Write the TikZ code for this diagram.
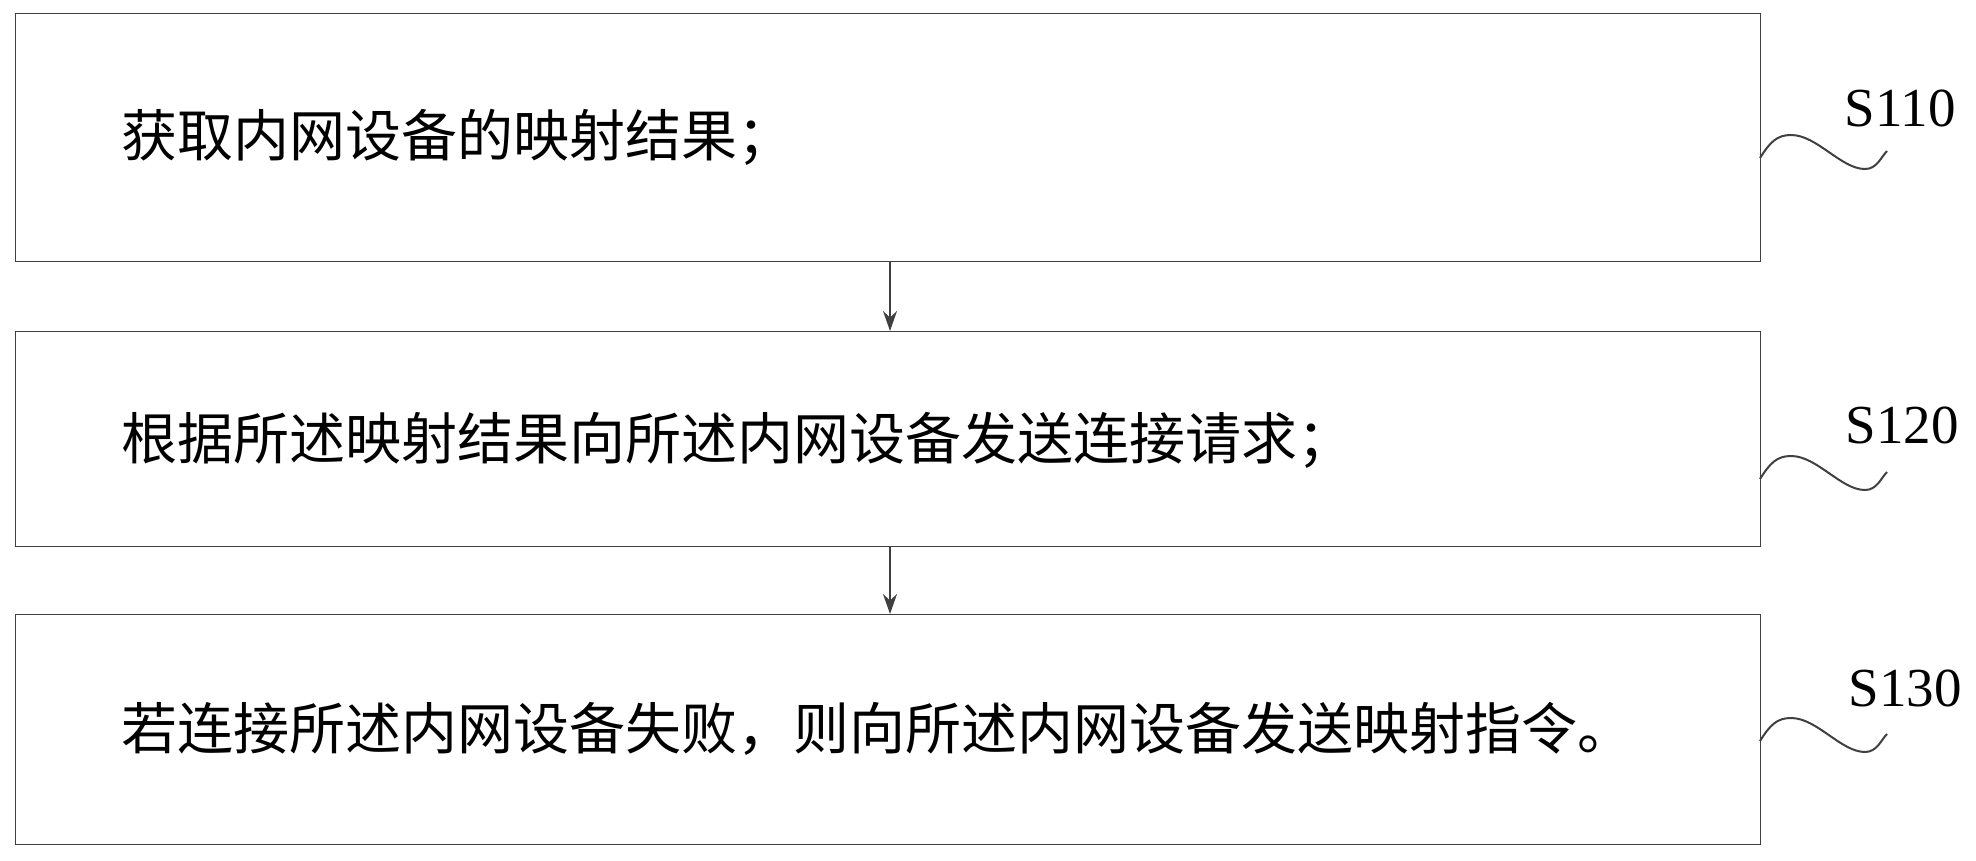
\documentclass[tikz,border=0pt]{standalone}
\usetikzlibrary{arrows.meta}
\usepackage{fontspec}
\setmainfont{Liberation Serif}
\newfontfamily\cjk{Noto Sans CJK SC}
\begin{document}
\begin{tikzpicture}[x=1pt,y=-1pt,
  stepbox/.style={draw=black!75,line width=1.3pt},
  txt/.style={anchor=west,font=\cjk\fontsize{56}{64}\selectfont,inner sep=0},
  lab/.style={anchor=center,font=\fontsize{55}{60}\selectfont,inner sep=0},
  arr/.style={draw=black!75,line width=2pt,-{Stealth[length=20pt,width=14pt]}},
  wave/.style={draw=black!75,line width=2pt}]
\useasboundingbox (0,0) rectangle (1976,861);
\node[stepbox,minimum width=1745pt,minimum height=248pt,anchor=north west,inner sep=0] (b1) at (15,13) {};
\node[stepbox,minimum width=1745pt,minimum height=215pt,anchor=north west,inner sep=0] (b2) at (15,331) {};
\node[stepbox,minimum width=1745pt,minimum height=230pt,anchor=north west,inner sep=0] (b3) at (15,614) {};
\node[txt] (t1) at (121,137) {获取内网设备的映射结果；};
\node[txt] (t2) at (121,440) {根据所述映射结果向所述内网设备发送连接请求；};
\node[txt] (t3) at (121,729) {若连接所述内网设备失败，则向所述内网设备发送映射指令。};
\draw[arr] (b1.south -| 890,0) -- (b2.north -| 890,0);
\draw[arr] (b2.south -| 890,0) -- (b3.north -| 890,0);
\node[lab] (l1) at (1900,108) {S110};
\node[lab] (l2) at (1902,425) {S120};
\node[lab] (l3) at (1905,688) {S130};
\foreach \i/\y in {1/158,2/479,3/741}{
  \coordinate (w\i) at (1760,\y);
  \draw[wave] (w\i) .. controls ++(10,-16) and ++(-14,0) .. ++(31,-23)
     .. controls ++(26,0) and ++(-24,0) .. ++(74,34)
     .. controls ++(12,0) and ++(-6,6) .. ++(22,-18);
}
\end{tikzpicture}
\end{document}
